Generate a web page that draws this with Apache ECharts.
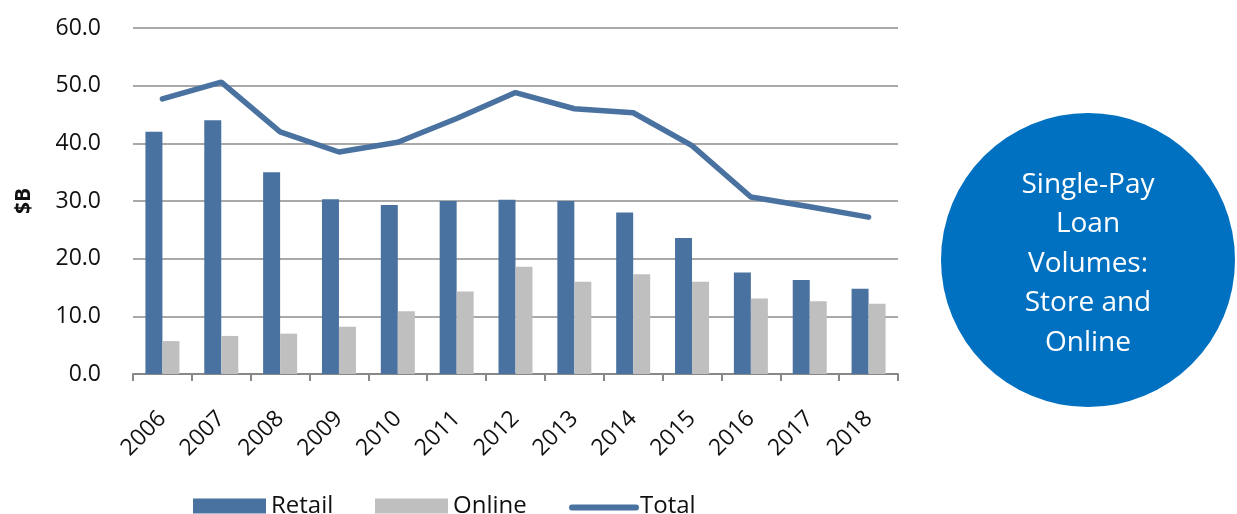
<!DOCTYPE html>
<html><head><meta charset="utf-8">
<script src="https://cdn.jsdelivr.net/npm/echarts@6/dist/echarts.min.js"></script>
<style>html,body{margin:0;padding:0;background:#fff}#c{width:1237px;height:514px}</style>
</head><body><div id="c"></div>
<script>
const years = ['2006','2007','2008','2009','2010','2011','2012','2013','2014','2015','2016','2017','2018'];
const retail = [42.0, 44.0, 35.0, 30.3, 29.3, 30.0, 30.2, 30.0, 28.0, 23.6, 17.6, 16.3, 14.8];
const online = [5.7, 6.6, 7.0, 8.2, 10.9, 14.3, 18.6, 16.0, 17.3, 16.0, 13.1, 12.6, 12.2];
const total = [47.7, 50.6, 42.0, 38.5, 40.2, 44.3, 48.8, 46.0, 45.3, 39.6, 30.7, 29.0, 27.2];
const yTicks = [0, 10, 20, 30, 40, 50, 60];
const circleLines = ['Single-Pay', 'Loan', 'Volumes:', 'Store and', 'Online'];

const FONT = 'Open Sans';
const chart = echarts.init(document.getElementById('c'));
const legendText = {fontFamily:FONT, fontSize:24, color:'#111'};
const dots = 'M0,0 L0.1,0 L0.1,0.1 Z M0,23 L0.1,23 L0.1,22.9 Z ';
const rectIcon = 'path://' + dots + 'M0,4 L73,4 L73,19 L0,19 Z';
const lineIcon = 'path://' + dots + 'M3,10 L67,10 A3,3 0 0 1 67,16 L3,16 A3,3 0 0 1 3,10 Z';
chart.setOption({
  animation:false,
  textStyle:{fontFamily:FONT},
  grid:{left:133, right:339, top:28, bottom:140, containLabel:false},
  legend:[
    {left:193, top:494, itemWidth:73, itemHeight:23, padding:0, textStyle:legendText, data:[{name:'Retail', icon:rectIcon}]},
    {left:375, top:494, itemWidth:73, itemHeight:23, padding:0, textStyle:legendText, data:[{name:'Online', icon:rectIcon}]},
    {left:569, top:494, itemWidth:70, itemHeight:23, padding:0, textStyle:Object.assign({}, legendText, {padding:[0,0,0,-4]}),
      data:[{name:'Total', icon:lineIcon}]}
  ],
  xAxis:{type:'category', data:years, boundaryGap:true,
    axisLine:{lineStyle:{color:'#888', width:2}},
    axisTick:{show:true, length:7, lineStyle:{color:'#888', width:2}},
    axisLabel:{rotate:45, margin:41, fontSize:23, color:'#111', fontFamily:FONT}},
  yAxis:{type:'value', min:0, max:60, interval:10,
    name:'$B', nameLocation:'middle', nameRotate:90, nameGap:98,
    nameTextStyle:{fontFamily:FONT, fontSize:21, fontWeight:'bold', color:'#111'},
    axisLine:{show:false}, axisTick:{show:false},
    axisLabel:{margin:32, fontSize:23, color:'#111', fontFamily:FONT, formatter:v=>v.toFixed(1)},
    splitLine:{lineStyle:{color:'#8c8c8c', width:1.5}}},
  series:[
    {name:'Retail', type:'bar', data:retail, barWidth:17, barGap:'0%', itemStyle:{color:'#4A72A0'}},
    {name:'Online', type:'bar', data:online, barWidth:17, barGap:'0%', itemStyle:{color:'#BFBFBF'}},
    {name:'Total', type:'line', data:total, symbol:'none', lineStyle:{color:'#4A72A0', width:5.5, cap:'round'}, itemStyle:{color:'#4A72A0'}, z:5}
  ],
  graphic:[
    {type:'circle', shape:{cx:1088, cy:260, r:147}, style:{fill:'#0070C0'}},
    ...circleLines.map((t,i)=>({type:'text', x:1088, y:185+i*39.5,
      style:{text:t, fill:'#fff', font:'28px "'+FONT+'"', textAlign:'center', textVerticalAlign:'middle'}}))
  ]
});
</script></body></html>
